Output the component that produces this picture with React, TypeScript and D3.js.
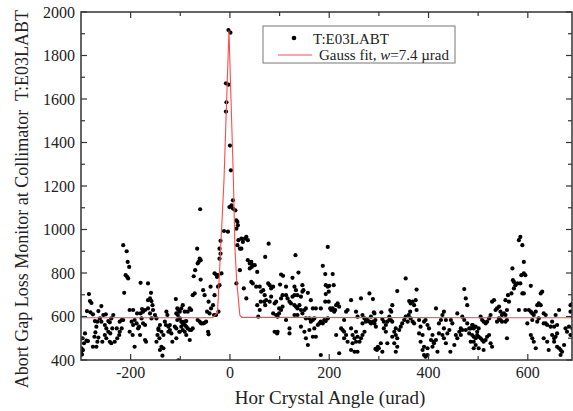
import React from "react";
import * as d3 from "d3";

// Scan data: [horizontal crystal angle (urad), counts]
const scanLeft: [number, number][] = [
  [-284,703],[-282,671],[-279,662],[-288,625],[-281,619],[-276,610],[-265,625],[-259,648],[-272,579],[-267,576],
  [-269,553],[-271,527],[-292,522],[-297,500],[-289,489],[-286,487],[-294,477],[-299,454],[-296,446],[-273,507],
  [-265,503],[-267,484],[-257,484],[-276,461],[-269,461],[-262,591],[-259,576],[-255,607],[-252,561],[-250,610],
  [-245,579],[-242,573],[-239,591],[-235,607],[-249,545],[-245,530],[-241,522],[-237,545],[-252,515],[-249,500],
  [-242,484],[-239,477],[-232,484],[-228,545],[-227,500],[-223,515],[-222,576],[-218,584],[-215,584],[-218,545],
  [-222,530],[-215,928],[-208,900],[-206,851],[-203,828],[-210,790],[-207,782],[-205,775],[-213,709],[-202,630],
  [-195,630],[-198,576],[-195,561],[-192,584],[-188,568],[-202,530],[-196,515],[-192,461],[-185,545],[-183,553],
  [-181,515],[-187,614],[-180,614],[-177,634],[-175,622],[-171,630],[-178,591],[-175,568],[-171,561],[-171,492],
  [-169,484],[-180,755],[-165,752],[-159,709],[-161,683],[-165,675],[-158,671],[-156,652],[-155,630],[-165,637],
  [-161,614],[-158,591],[-151,607],[-148,591],[-141,561],[-144,545],[-146,515],[-142,500],[-148,484],[-138,461],
  [-141,446],[-134,454],[-138,530],[-134,515],[-144,538],[-128,622],[-126,607],[-131,576],[-129,561],[-124,553],
  [-121,561],[-124,530],[-121,538],[-118,522],[-136,420],[-109,680],[-106,637],[-104,630],[-108,614],[-111,553],
  [-108,545],[-102,530],[-106,584],[-116,484],[-108,500],[-298,425],[-299,440],[-104,398],
];

const scanPeak: [number, number][] = [
  [-60,1093],[-66,912],[-61,866],[-59,859],[-63,851],[-65,844],[-73,785],[-70,813],[-59,770],[-75,698],
  [-71,706],[-54,721],[-51,698],[-81,637],[-78,630],[-85,622],[-91,622],[-95,652],[-98,637],[-101,622],
  [-105,607],[-101,591],[-98,576],[-95,568],[-91,561],[-88,553],[-85,545],[-81,538],[-78,538],[-75,545],
  [-98,553],[-95,538],[-91,530],[-88,515],[-101,530],[-81,492],[-91,576],[-88,579],[-65,584],[-61,576],
  [-58,568],[-54,568],[-51,571],[-48,576],[-46,622],[-43,668],[-41,614],[-39,737],[-44,530],[-43,518],
  [-38,637],[-34,652],[-31,698],[-31,798],[-28,793],[-26,782],[-24,790],[-21,744],[-24,737],[-17,798],
  [-32,607],[-28,607],[-23,622],[-21,866],[-19,889],[-21,912],[-19,948],[-12,993],[-4,990],
  [-3,1917],[1,1905],[-8,1672],[-3,1666],[-7,1585],[-8,1542],[0,1386],[2,1272],[6,1134],
  [-1,1103],[3,1111],[6,1096],[11,1088],[13,1042],[15,1035],[16,1019],[13,1004],[15,928],[17,951],
  [23,958],[26,943],[30,958],[33,966],[36,951],[20,912],[23,912],[78,935],[71,874],[36,859],
  [40,844],[43,851],[46,836],[50,836],[40,821],[44,828],[55,805],[13,752],[20,813],[28,729],
  [33,683],[43,759],[46,752],[53,737],[60,737],[63,714],[67,721],[70,698],[77,752],[80,744],
  [83,729],[87,737],[55,652],[60,630],[62,668],[69,668],[71,652],[73,675],[80,668],[83,691],
  [90,660],[93,668],[87,614],[93,607],[57,599],[90,530],[95,522],
];

const scanMid: [number, number][] = [
  [132,882],[103,793],[107,787],[101,747],[113,737],[126,778],[138,802],[130,737],[133,721],[146,744],
  [148,721],[157,709],[103,683],[106,698],[113,698],[116,683],[120,668],[123,660],[126,691],[130,698],
  [136,698],[143,691],[146,714],[99,637],[103,630],[106,645],[99,614],[96,599],[130,652],[133,645],
  [136,637],[140,652],[143,630],[150,630],[153,637],[163,675],[167,637],[173,637],[130,607],[136,607],
  [146,614],[153,591],[160,591],[163,576],[167,584],[170,591],[113,584],[120,545],[120,522],[96,530],
  [143,553],[150,530],[153,500],[160,538],[170,545],[173,507],[167,507],[157,469],[177,561],[180,568],
  [183,637],[187,833],[192,795],[193,744],[197,737],[200,741],[199,714],[207,795],[209,744],[193,703],
  [192,668],[199,668],[202,637],[204,630],[207,637],[210,622],[214,652],[217,660],[220,645],[212,630],
  [197,920],[183,576],[187,568],[190,584],[193,579],[197,591],[214,515],[230,584],[234,622],[237,630],
  [244,675],[254,622],[257,599],[264,683],[267,607],[271,591],[274,584],[281,706],[284,599],[288,680],
  [291,614],[293,584],[224,545],[227,538],[230,530],[234,515],[230,500],[244,545],[247,515],[251,500],
  [254,530],[257,507],[261,484],[264,500],[267,515],[271,530],[267,568],[274,576],[277,584],[281,576],
  [284,568],[288,576],[291,568],[244,446],[251,438],[257,438],[220,431],[247,477],[237,484],[254,484],
  [183,423],[293,451],
];

const scanRight: [number, number][] = [
  [290,619],[290,573],[294,553],[298,461],[296,446],[300,454],[304,477],[305,619],[307,588],[310,576],
  [314,561],[310,545],[314,530],[317,576],[321,584],[324,584],[327,576],[323,630],[325,622],[327,652],
  [321,599],[337,717],[354,775],[376,724],[361,671],[364,660],[368,668],[371,652],[374,675],[376,630],
  [363,622],[360,607],[354,599],[351,584],[347,568],[358,576],[368,576],[371,568],[364,591],[334,545],
  [331,530],[334,515],[337,500],[341,538],[344,553],[327,507],[331,477],[337,461],[334,438],[317,477],
  [307,438],[381,584],[384,553],[381,522],[388,515],[391,576],[394,584],[398,561],[401,545],[384,484],
  [391,461],[398,454],[388,446],[391,423],[394,415],[398,423],[408,515],[405,492],[410,484],[415,492],
  [418,438],[408,461],[411,477],[421,522],[415,637],[421,568],[425,584],[428,607],[431,622],[435,584],
  [431,545],[428,515],[431,500],[435,477],[438,522],[442,538],[445,584],[448,568],[452,469],[444,438],
  [458,614],[462,530],[465,545],[455,515],[458,500],[472,726],[475,683],[478,652],[468,599],[472,584],
  [478,568],[482,545],[485,545],[489,561],[475,538],[468,538],[482,522],[485,484],[491,454],[465,515],
];

const scanFar: [number, number][] = [
  [488,561],[491,545],[495,553],[498,530],[501,545],[505,599],[508,584],[511,576],[515,568],[518,576],
  [522,591],[525,607],[528,668],[532,675],[488,515],[491,507],[495,500],[498,515],[501,507],[505,500],
  [508,492],[511,484],[515,492],[518,507],[522,515],[525,477],[528,461],[495,469],[501,454],[511,446],
  [491,484],[535,630],[538,637],[542,645],[545,622],[548,607],[552,614],[555,607],[558,584],[545,584],
  [548,576],[538,576],[542,591],[555,576],[558,630],[555,675],[562,668],[560,698],[567,706],[570,767],
  [569,821],[572,759],[575,744],[579,752],[572,729],[585,752],[589,706],[592,706],[587,790],[595,790],
  [592,798],[582,951],[585,966],[589,928],[592,851],[606,741],[582,630],[595,630],[602,630],[606,622],
  [609,614],[612,607],[616,622],[619,652],[622,660],[626,652],[629,714],[626,706],[632,614],[636,607],
  [622,591],[619,576],[632,568],[558,500],[599,568],[609,584],[606,515],[609,500],[612,484],[616,454],
  [632,500],[639,484],[642,446],[636,568],[639,561],[646,553],[649,576],[653,553],[656,607],[659,561],
  [663,630],[649,515],[653,500],[656,507],[659,522],[653,484],[659,461],[663,454],[666,446],[669,438],
  [666,423],[673,469],[676,545],[679,530],[683,553],[686,652],[686,622],[690,660],[690,545],[686,515],
];

// Gauss fit curve as drawn (polyline vertices)
const fitAngle = [-300, -35, -25, -12, -2, 7, 10, 13.5, 20, 24, 700];
const fitValue = [594, 594, 618, 1226, 1915, 1226, 920, 767, 606, 596, 594];

const yMajor = [400, 600, 800, 1000, 1200, 1400, 1600, 1800, 2000];
const yMinor = [500, 700, 900, 1100, 1300, 1500, 1700, 1900];
const xMajor = [-200, 0, 200, 400, 600];
const xMinor = [-100, 100, 300, 500];

const W = 573, H = 411;
const L = 81, R = 572, T = 12, B = 360;

export default function App() {
  const x = d3.scaleLinear().domain([-300, 689]).range([L, R]);
  const y = d3.scaleLinear().domain([400, 2000]).range([B, T]);
  const points = [...scanLeft, ...scanPeak, ...scanMid, ...scanRight, ...scanFar];
  const fit = fitAngle.map((a, i) => [a, fitValue[i]] as [number, number]);
  const line = d3.line<[number, number]>().x(d => x(d[0])).y(d => y(d[1]));
  const font = "'Liberation Serif', 'Times New Roman', serif";
  const axisColor = "#333";
  return (
    <svg width={W} height={H} style={{ position: "absolute", left: 0, top: 0, background: "#fff" }}
      fontFamily={font}>
      <defs>
        <clipPath id="plot"><rect x={L} y={T} width={R - L} height={B - T} /></clipPath>
      </defs>
      <g clipPath="url(#plot)">
        {points.map((p, i) => (
          <circle key={i} cx={x(p[0])} cy={y(p[1])} r={2.1} fill="#000" />
        ))}
        <path d={line(fit) || ""} fill="none" stroke="#ff4a4a" strokeWidth={1.1} />
      </g>
      {/* frame */}
      <rect x={L} y={T} width={R - L} height={B - T} fill="none" stroke={axisColor} strokeWidth={1.5} />
      {/* y ticks */}
      {yMajor.map(v => (
        <g key={"ym" + v}>
          <line x1={L} x2={L + 6} y1={y(v)} y2={y(v)} stroke={axisColor} strokeWidth={1.2} />
          <line x1={R} x2={R - 6} y1={y(v)} y2={y(v)} stroke={axisColor} strokeWidth={1.2} />
          <text x={L - 6} y={y(v)} dy="0.35em" textAnchor="end" fontSize={16} fill="#222">{v}</text>
        </g>
      ))}
      {yMinor.map(v => (
        <g key={"yn" + v}>
          <line x1={L} x2={L + 4} y1={y(v)} y2={y(v)} stroke={axisColor} strokeWidth={1.2} />
          <line x1={R} x2={R - 4} y1={y(v)} y2={y(v)} stroke={axisColor} strokeWidth={1.2} />
        </g>
      ))}
      {/* x ticks */}
      {xMajor.map(v => (
        <g key={"xm" + v}>
          <line x1={x(v)} x2={x(v)} y1={B} y2={B - 6} stroke={axisColor} strokeWidth={1.2} />
          <line x1={x(v)} x2={x(v)} y1={T} y2={T + 6} stroke={axisColor} strokeWidth={1.2} />
          <text x={x(v)} y={B + 18} textAnchor="middle" fontSize={16} fill="#222">{v}</text>
        </g>
      ))}
      {xMinor.map(v => (
        <g key={"xn" + v}>
          <line x1={x(v)} x2={x(v)} y1={B} y2={B - 4} stroke={axisColor} strokeWidth={1.2} />
          <line x1={x(v)} x2={x(v)} y1={T} y2={T + 4} stroke={axisColor} strokeWidth={1.2} />
        </g>
      ))}
      {/* axis titles */}
      <text x={330} y={404} textAnchor="middle" fontSize={19} fill="#222">Hor Crystal Angle (urad)</text>
      <text transform={`translate(28,${199}) rotate(-90)`} textAnchor="middle" fontSize={18} fill="#222"
        style={{ whiteSpace: "pre" }}>{"Abort Gap Loss Monitor at Collimator  T:E03LABT"}</text>
      {/* legend */}
      <rect x={263} y={26} width={192} height={37} fill="#fff" stroke="#777" strokeWidth={1} />
      <circle cx={294} cy={38} r={2.3} fill="#000" />
      <text x={313} y={43.5} fontSize={15} fill="#222">T:E03LABT</text>
      <line x1={278} x2={312} y1={55} y2={55} stroke="#ff4a4a" strokeWidth={1.1} />
      <text x={319} y={60} fontSize={15} fill="#222">Gauss fit, <tspan fontStyle="italic">w</tspan>=7.4 µrad</text>
    </svg>
  );
}
